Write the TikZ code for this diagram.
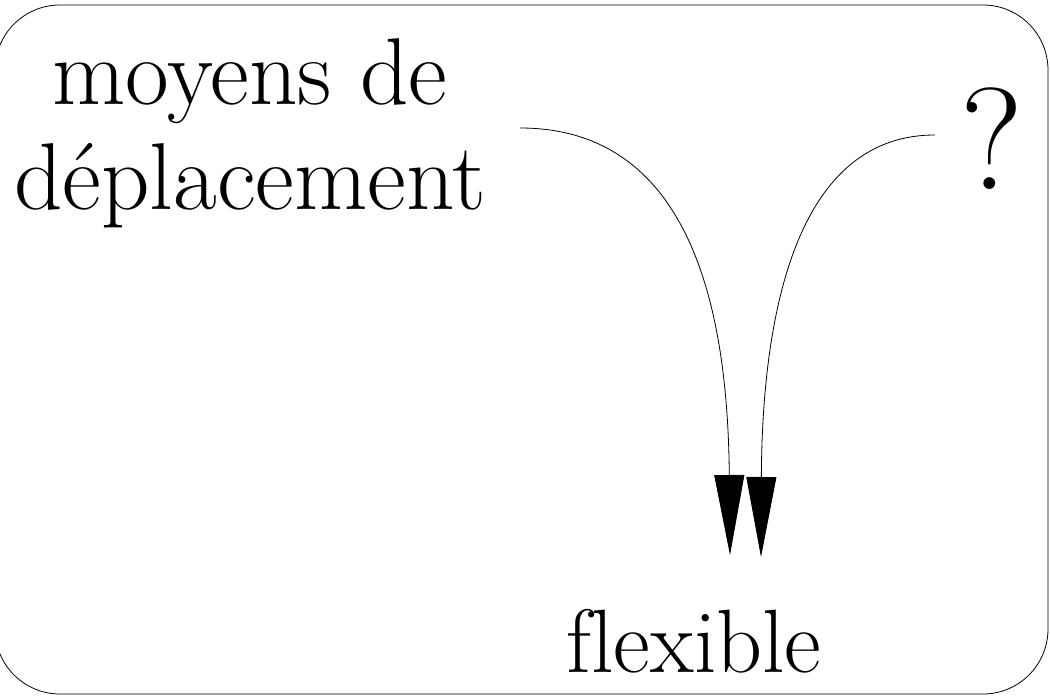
\documentclass[tikz,border=0pt]{standalone}
\usetikzlibrary{arrows.meta}
\tikzset{
  lbl/.style={inner sep=0pt, anchor=base, font=\rmfamily\fontsize{95}{110}\selectfont},
  conn/.style={line width=0.8pt, -{Triangle[length=80pt,width=30pt]}},
}
\begin{document}
\begin{tikzpicture}[x=1pt,y=-1pt]
\useasboundingbox (0,0) rectangle (1050,700);
\draw[line width=0.8pt, rounded corners=65pt] (-5,5) rectangle (1048,694);
\node[lbl] (moy) at (250,105) {moyens de};
\node[lbl] (dep) at (250,210) {d\'eplacement};
\node[lbl, font=\rmfamily\fontsize{90}{110}\selectfont] (flex) at (694,672) {f\kern0pt lexible};
\node[lbl, font=\rmfamily\fontsize{145}{160}\selectfont] (q) at (992,190) {?};
\coordinate (s1) at (520,128);
\coordinate (s2) at (935,135);
\coordinate (t1) at (730,555);
\coordinate (t2) at (761,557);
\draw[conn] (s1) .. controls (700,128) and (728,330) .. (t1);
\draw[conn] (s2) .. controls (790,135) and (762,330) .. (t2);
\end{tikzpicture}
\end{document}
